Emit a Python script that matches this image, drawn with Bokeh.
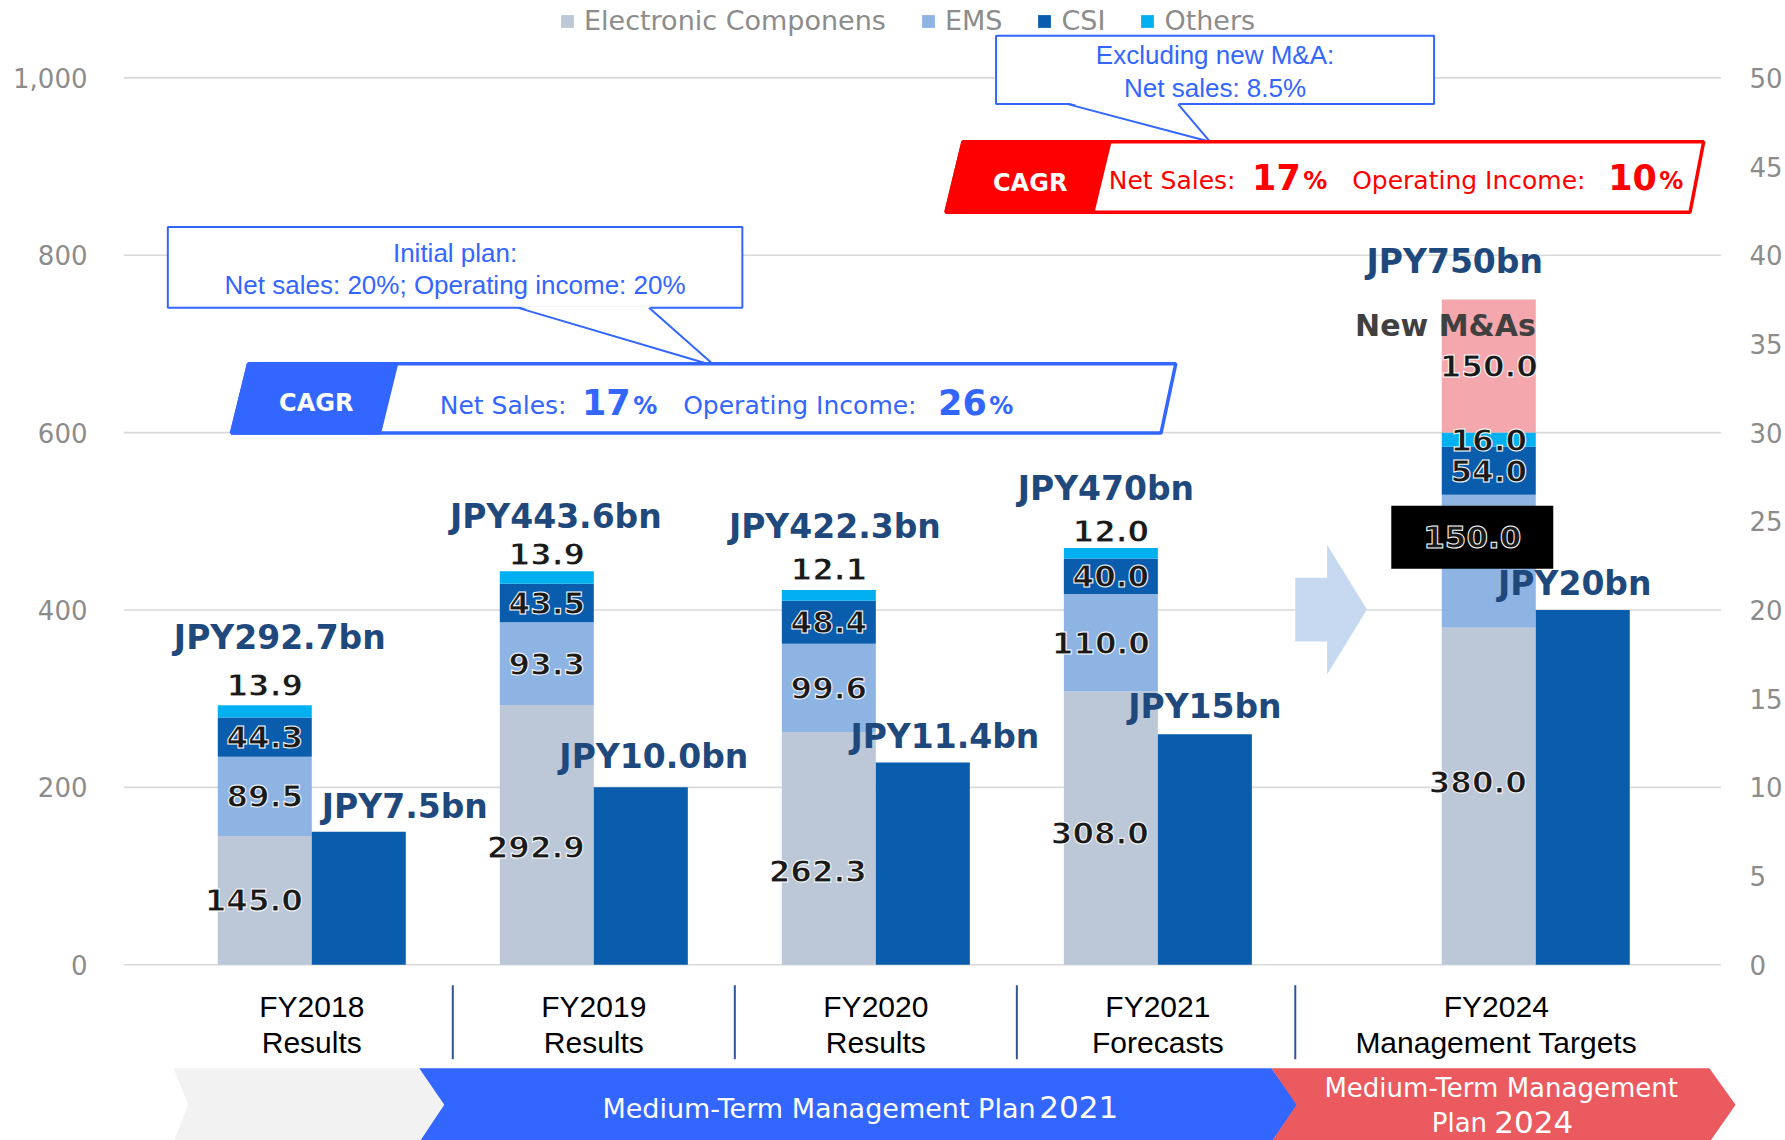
import numpy as np
from bokeh.plotting import figure
from bokeh.models import (Range1d, LinearAxis, FixedTicker, Legend, LegendItem,
                          ColumnDataSource, NumeralTickFormatter)
from bokeh.core.properties import value
from bokeh.embed import file_html
from bokeh.resources import INLINE

# ---------------- data ----------------
categories = ["FY2018", "FY2019", "FY2020", "FY2021", "FY2024"]
category_notes = ["Results", "Results", "Results", "Forecasts", "Management Targets"]
series_names = ["Electronic Componens", "EMS", "CSI", "Others"]
electronic = [145.0, 292.9, 262.3, 308.0, 380.0]
ems = [89.5, 93.3, 99.6, 110.0, 150.0]
csi = [44.3, 43.5, 48.4, 40.0, 54.0]
others = [13.9, 13.9, 12.1, 12.0, 16.0]
new_mas = [0.0, 0.0, 0.0, 0.0, 150.0]
net_sales_labels = ["JPY292.7bn", "JPY443.6bn", "JPY422.3bn", "JPY470bn", "JPY750bn"]
op_income = [7.5, 10.0, 11.4, 13.0, 20.0]
op_income_labels = ["JPY7.5bn", "JPY10.0bn", "JPY11.4bn", "JPY15bn", "JPY20bn"]
left_ticks = [0, 200, 400, 600, 800, 1000]
right_ticks = [0, 5, 10, 15, 20, 25, 30, 35, 40, 45, 50]

# ---------------- layout helpers ----------------
S = 1785 / 1568
X0, XU = 311.4, 282.2
Y0, YU = 964.2, 0.8868
def X(s):
    return (s * S - X0) / XU
def Y(s):
    return (Y0 - s * S) / YU

W, H = 1785, 1140
FRAME_L, FRAME_R = 123, 1741
X_START = (FRAME_L - X0) / XU
X_END = (FRAME_R - X0) / XU
Y_END = Y0 / YU
Y_START = (Y0 - H) / YU

xpos = [0, 1, 2, 3, 4.34]
label_x = [0, 1, 2, 3, 4.2]
BW = 1 / 3
stack_x = [x - BW / 2 for x in xpos]
op_x = [x + BW / 2 for x in xpos]

C_EC, C_EMS, C_CSI, C_OTH, C_MA = "#BCC7D8", "#8EB4E3", "#0A5DAD", "#00B0F0", "#F4A7AC"
C_OP = "#0A5DAD"
BLUE = "#3366FF"
RED = "#FF0000"
NAVY = "#1F497D"
FONT = "DejaVu Sans"
ARIAL = "Liberation Sans"

p = figure(width=W, height=H, output_backend="svg", toolbar_location=None,
           x_range=Range1d(X_START, X_END), y_range=Range1d(Y_START, Y_END),
           min_border_left=FRAME_L, min_border_right=W - FRAME_R,
           min_border_top=0, min_border_bottom=0,
           x_axis_location=None, title=None)
p.outline_line_color = None
p.xgrid.visible = False
p.ygrid.visible = False
p.background_fill_color = "white"
p.border_fill_color = "white"

# axes
ya = p.yaxis[0]
ya.ticker = FixedTicker(ticks=left_ticks)
ya.formatter = NumeralTickFormatter(format="0,0")
p.extra_y_ranges = {"op": Range1d(Y_START / 20, Y_END / 20)}
ra = LinearAxis(y_range_name="op", ticker=FixedTicker(ticks=right_ticks))
p.add_layout(ra, "right")
for ax, so in [(ya, 36), (ra, 9)]:
    ax.axis_line_color = None
    ax.major_tick_line_color = None
    ax.minor_tick_line_color = None
    ax.major_tick_out = 0
    ax.major_tick_in = 0
    ax.minor_tick_out = 0
    ax.major_label_standoff = so
    ax.major_label_text_font = FONT
    ax.major_label_text_font_size = "26px"
    ax.major_label_text_color = "#8C8C8C"

# gridlines
p.segment(x0=[X_START] * len(left_ticks), x1=[X(1512)] * len(left_ticks),
          y0=left_ticks, y1=left_ticks, line_color="#D9D9D9", line_width=1.6)

# arrow between FY2021 and FY2024
ax_s = [1138, 1166, 1166, 1201, 1166, 1166, 1138]
ay_s = [507, 507, 478, 535, 592, 563, 563]
p.patch([X(v) for v in ax_s], [Y(v) for v in ay_s], fill_color="#C6D9F1", line_color=None)

# stacked bars
src = ColumnDataSource(dict(x=stack_x, electronic=electronic, ems=ems, csi=csi,
                            others=others, new_mas=new_mas))
rs = p.vbar_stack(["electronic", "ems", "csi", "others", "new_mas"], x="x", width=BW,
                  fill_color=[C_EC, C_EMS, C_CSI, C_OTH, C_MA], line_color=None, source=src)
# operating income bars
p.vbar(x=op_x, top=op_income, width=BW, y_range_name="op", fill_color=C_OP, line_color=None)

ec = np.array(electronic); em = np.array(ems); cs = np.array(csi)
ot = np.array(others); ma = np.array(new_mas)
totals = ec + em + cs + ot + ma

lab = dict(text_font=value(FONT), text_font_size="31px", text_font_style="bold",
           text_color="#1A1A1A", text_align="center", text_baseline="middle",
           text_outline_color="white")

# EC labels
ec_dy = [0, 12, 23, 5, -14]
p.text(x=stack_x, y=list(ec / 2), text=[f"{v:.1f}" for v in electronic], x_offset=-11,
       y_offset=ec_dy, **lab)
# EMS labels (last one sits in a black box)
ems_y = list(ec + em / 2)
ems_dx = [0, 0, 0, -10]
p.text(x=stack_x[:4], y=ems_y[:4], text=[f"{v:.1f}" for v in ems[:4]], x_offset=ems_dx, **lab)
box_x = stack_x[4] - 16.5 / XU
box_y = ems_y[4] + 27
p.rect(x=[box_x], y=[box_y], width=162, height=63, width_units="screen",
       height_units="screen", fill_color="black", line_color=None)
p.text(x=[box_x], y=[box_y], text=[f"{ems[4]:.1f}"], **lab)
# CSI labels
p.text(x=stack_x, y=list(ec + em + cs / 2), text=[f"{v:.1f}" for v in csi], **lab)
# Others labels
oth_y = [float(t) for t in (ec + em + cs + ot)]
oth_y[4] = float(ec[4] + em[4] + cs[4] + ot[4] / 2)
oth_dy = [-20, -17, -21, -17, 0]
p.text(x=stack_x, y=oth_y, text=[f"{v:.1f}" for v in others], y_offset=oth_dy, **lab)
# New M&As
p.text(x=[stack_x[4]], y=[float(ec[4] + em[4] + cs[4] + ot[4] + ma[4] / 2)],
       text=[f"{new_mas[4]:.1f}"], **lab)
p.text(x=[xpos[4]], y=[float(totals[4])], text=["New M&As"], y_offset=26,
       text_font=value(FONT), text_font_size="30px", text_font_style="bold",
       text_color="#404040", text_align="right", text_baseline="middle")

# total labels
tot_dx = [15, 9, 6, -5, -34]
tot_dy = [-68, -55, -64, -59, -38]
p.text(x=stack_x, y=list(totals), text=net_sales_labels, x_offset=tot_dx, y_offset=tot_dy,
       text_font=value(FONT), text_font_size="33px", text_font_style="bold",
       text_color=NAVY, text_align="center", text_baseline="middle")
# operating income labels
op_dx = [46, 13, 22, 0, -8]
op_dy = [-25, -31, -26, -28, -26]
p.text(x=op_x, y=op_income, text=op_income_labels, x_offset=op_dx, y_offset=op_dy,
       y_range_name="op",
       text_font=value(FONT), text_font_size="33px", text_font_style="bold",
       text_color=NAVY, text_align="center", text_baseline="middle")

# ---------- callout boxes ----------
def callout(x0, y0, x1, y1, pa, pb, tip, lines, ty):
    p.quad(left=[X(x0)], right=[X(x1)], top=[Y(y0)], bottom=[Y(y1)],
           fill_color="white", line_color=BLUE, line_width=2)
    p.patch([X(pa), X(tip[0]), X(pb)], [Y(y1 - 1.5), Y(tip[1]), Y(y1 - 1.5)],
            fill_color="white", line_color=None)
    p.segment(x0=[X(pa), X(pb)], y0=[Y(y1), Y(y1)], x1=[X(tip[0])] * 2, y1=[Y(tip[1])] * 2,
              line_color=BLUE, line_width=2)
    p.text(x=[X((x0 + x1) / 2)] * len(lines), y=[Y(t) for t in ty], text=lines,
           text_font=value(ARIAL), text_font_size="26px", text_color=BLUE,
           text_align="center", text_baseline="middle")

callout(147, 199, 652, 270, 455, 570, (628, 321),
        ["Initial plan:", "Net sales: 20%; Operating income: 20%"], [222, 250])
callout(875, 31, 1260, 91, 938, 1035, (1063, 124),
        ["Excluding new M&A:", "Net sales: 8.5%"], [48, 77])

# ---------- CAGR boxes ----------
def cagr(col, top, bot, xs, parts, mid, cmid):
    tl, tr, br, bl, split_t, split_b = xs
    p.patch([X(tl), X(tr), X(br), X(bl)], [Y(top), Y(top), Y(bot), Y(bot)],
            fill_color="white", line_color=col, line_width=3.5)
    p.patch([X(tl), X(split_t), X(split_b), X(bl)], [Y(top), Y(top), Y(bot), Y(bot)],
            fill_color=col, line_color=col, line_width=3.5)
    p.text(x=[X((tl + split_b) / 2 + 2)], y=[Y(cmid)], text=["CAGR"],
           text_font=value(FONT), text_font_size="24px", text_font_style="bold",
           text_color="white", text_align="center", text_baseline="middle")
    for xs_, txt, size, bold, dy in parts:
        p.text(x=[X(xs_)], y=[Y(mid)], text=[txt], text_font=value(FONT), y_offset=dy,
               text_font_size=size, text_font_style="bold" if bold else "normal",
               text_color=col, text_align="left", text_baseline="middle")

cagr(BLUE, 319, 380, (218, 1033, 1020, 203, 348, 333),
     [(386, "Net Sales:", "25px", False, 2), (511, "17", "35px", True, -1),
      (556, "%", "24px", True, 3), (600, "Operating Income:", "25px", False, 2),
      (824, "26", "35px", True, -1), (869, "%", "24px", True, 3)], 354, 354)
cagr(RED, 124, 186, (846, 1497, 1485, 831, 975, 960),
     [(974, "Net Sales:", "25px", False, 1), (1100, "17", "35px", True, -2),
      (1145, "%", "24px", True, 2), (1188, "Operating Income:", "25px", False, 1),
      (1413, "10", "35px", True, -2), (1458, "%", "24px", True, 2)], 157, 160)

# ---------- category axis ----------
div_x = [0.5, 1.5, 2.5, X(1138)]
p.segment(x0=div_x, x1=div_x, y0=[Y(865)] * 4, y1=[Y(930)] * 4, line_color="#2F5597", line_width=2)
p.text(x=label_x, y=[Y(884)] * 5, text=categories, text_font=value(ARIAL), text_font_size="30px",
       text_color="black", text_align="center", text_baseline="middle")
p.text(x=label_x, y=[Y(915)] * 5, text=category_notes, text_font=value(ARIAL), text_font_size="30px",
       text_color="black", text_align="center", text_baseline="middle")

# ---------- plan banner ----------
def chevron(xl, xr, col, notch=True):
    xs = [xl, xr, xr + 23, xr, xl, xl + (22 if notch else 13)]
    ys = [938, 938, 970, 1003, 1003, 970]
    p.patch([X(v) for v in xs], [Y(v) for v in ys], fill_color=col, line_color=None)

chevron(152, 368, "#F2F2F2", notch=False)
chevron(368, 1117, BLUE)
chevron(1117, 1502, "#EA5A5E")
p.text(x=[X(529)], y=[Y(973)], text=["Medium-Term Management Plan"], text_font=value(FONT),
       text_font_size="27px", text_color="white", text_align="left", text_baseline="middle")
p.text(x=[X(913)], y=[Y(972)], text=["2021"], text_font=value(FONT),
       text_font_size="31px", text_color="white", text_align="left", text_baseline="middle")
p.text(x=[X(1319)], y=[Y(955)], text=["Medium-Term Management"], text_font=value(FONT),
       text_font_size="26px", text_color="white", text_align="center", text_baseline="middle")
p.text(x=[X(1258)], y=[Y(986)], text=["Plan"], text_font=value(FONT),
       text_font_size="26px", text_color="white", text_align="left", text_baseline="middle")
p.text(x=[X(1313)], y=[Y(985)], text=["2024"], text_font=value(FONT),
       text_font_size="31px", text_color="white", text_align="left", text_baseline="middle")

# ---------- legend ----------
legend = Legend(items=[LegendItem(label=n, renderers=[r]) for n, r in zip(series_names, rs[:4])],
                orientation="horizontal", location=(436, 1104),
                glyph_width=16, glyph_height=16, label_standoff=9, spacing=34,
                padding=0, margin=0, background_fill_alpha=0, border_line_color=None,
                label_text_font=FONT, label_text_font_size="27px", label_text_color="#8C8C8C")
p.add_layout(legend)

open("out.html", "w").write(file_html(p, INLINE))
